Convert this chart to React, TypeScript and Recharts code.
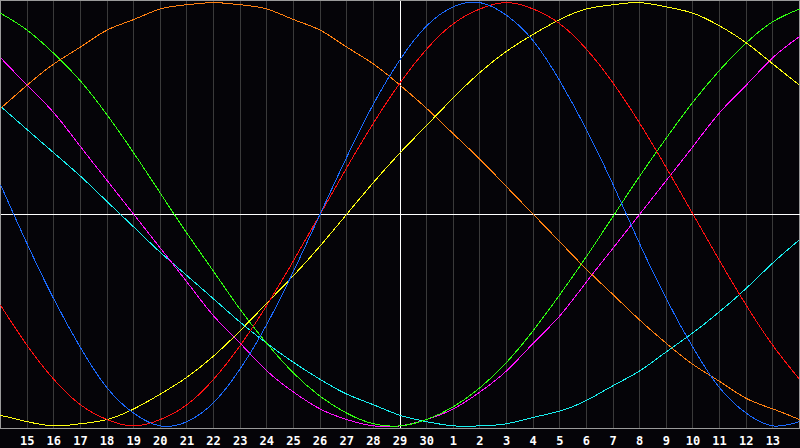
import { LineChart, Line, XAxis, YAxis, CartesianGrid, ReferenceLine, ReferenceArea } from "recharts";

// day labels at x = 1..29 (x = 0 and 30 are the chart edges)
const dayLabels = [
  "15", "16", "17", "18", "19", "20", "21", "22", "23", "24", "25", "26", "27", "28", "29", "30",
  "1", "2", "3", "4", "5", "6", "7", "8", "9", "10", "11", "12", "13",
];

// cycle values in percent, one per day from x = 0 to x = 30
const physical = [14, -14, -40, -63, -82, -94, -100, -98, -89, -73, -52, -27, 0, 27, 52, 73, 89, 98, 100, 94, 82, 63, 40, 14, -14, -40, -63, -82, -94, -100, -98];
const emotional = [-43, -62, -78, -90, -97, -100, -97, -90, -78, -62, -43, -22, 0, 22, 43, 62, 78, 90, 97, 100, 97, 90, 78, 62, 43, 22, 0, -22, -43, -62, -78];
const intellectual = [95, 87, 76, 63, 47, 29, 10, -9, -27, -45, -61, -75, -86, -94, -99, -100, -97, -91, -82, -70, -55, -38, -20, -1, 18, 36, 53, 68, 81, 91, 97];
const intuitive = [74, 61, 48, 32, 16, 0, -16, -32, -48, -61, -74, -84, -92, -97, -100, -100, -97, -92, -84, -74, -61, -48, -32, -16, 0, 16, 32, 48, 61, 74, 84];
const aesthetic = [-95, -98, -100, -99, -97, -92, -85, -77, -67, -55, -42, -29, -15, 0, 15, 29, 42, 55, 67, 77, 85, 92, 97, 99, 100, 98, 95, 89, 81, 71, 61];
const awareness = [50, 61, 71, 79, 87, 92, 97, 99, 100, 99, 97, 92, 87, 79, 71, 61, 50, 38, 26, 13, 0, -13, -26, -38, -50, -61, -71, -79, -87, -92, -97];
const spiritual = [51, 40, 29, 18, 6, -6, -18, -29, -40, -51, -61, -70, -78, -85, -90, -95, -98, -100, -100, -99, -96, -93, -88, -81, -74, -65, -56, -46, -35, -23, -12];

const series = [
  { key: "spiritual", color: "#18f0f0" },
  { key: "intuitive", color: "#ff10ff" },
  { key: "intellectual", color: "#30ff10" },
  { key: "awareness", color: "#ff8010" },
  { key: "aesthetic", color: "#ffff10" },
  { key: "emotional", color: "#ff1010" },
  { key: "physical", color: "#1a6aff" },
];

const data = physical.map((_, i) => ({
  x: i,
  physical: physical[i],
  emotional: emotional[i],
  intellectual: intellectual[i],
  intuitive: intuitive[i],
  aesthetic: aesthetic[i],
  awareness: awareness[i],
  spiritual: spiritual[i],
}));

const ticks = dayLabels.map((_, i) => i + 1);

export default function App() {
  return (
    <div style={{ position: "absolute", left: 0, top: 0, width: 800, height: 448, background: "#050408" }}>
      <LineChart width={800} height={448} data={data} margin={{ top: 0.5, right: 0.5, bottom: 0, left: 0.5 }}>
        <CartesianGrid vertical horizontal={false} stroke="#3a3a3a" shapeRendering="crispEdges" />
        <XAxis
          dataKey="x"
          type="number"
          domain={[0, 30]}
          ticks={ticks}
          interval={0}
          height={20}
          tickLine={false}
          axisLine={{ stroke: "#9a9a9a", shapeRendering: "crispEdges" }}
          tickFormatter={(v: number) => dayLabels[v - 1] ?? ""}
          tick={{ fill: "#ffffff", fontSize: 12, fontWeight: 700, fontFamily: "DejaVu Sans Mono" }}
        />
        <YAxis hide domain={[-101, 101]} type="number" />
        <ReferenceArea x1={0} x2={30} y1={-101} y2={101} fill="none" stroke="#9a9a9a" strokeOpacity={1} fillOpacity={0} shapeRendering="crispEdges" />
        <ReferenceLine x={15} stroke="#ffffff" shapeRendering="crispEdges" />
        <ReferenceLine y={0} stroke="#ffffff" shapeRendering="crispEdges" />
        {series.map((s) => (
          <Line
            key={s.key}
            dataKey={s.key}
            type="natural"
            stroke={s.color}
            strokeWidth={1}
            dot={false}
            shapeRendering="crispEdges"
            isAnimationActive={false}
          />
        ))}
      </LineChart>
    </div>
  );
}
